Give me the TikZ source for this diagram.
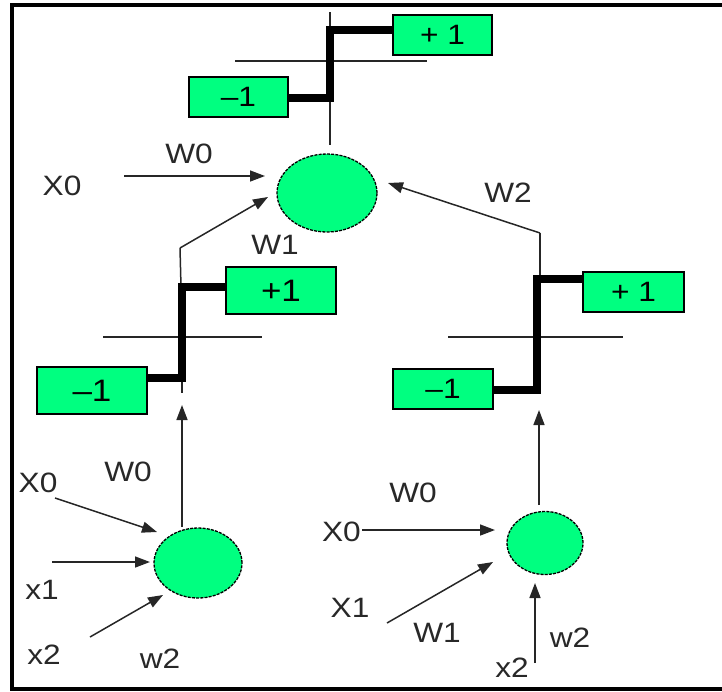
\documentclass[tikz,border=0pt]{standalone}
\usepackage{fontspec}
\setmainfont{Liberation Sans}
\newfontfamily\widesans[FakeStretch=1.13]{Liberation Sans}
\usetikzlibrary{arrows.meta,shapes.geometric}
\definecolor{neurongreen}{RGB}{0,255,128}
\definecolor{labelgray}{RGB}{40,40,40}
\begin{document}
\begin{tikzpicture}[x=1pt,y=-1pt,
  neuron/.style={ellipse,draw=black,dash pattern=on 3pt off 1.2pt,line width=1.3pt,fill=neurongreen,inner sep=0pt},
  valbox/.style={rectangle,draw=black,line width=1.4pt,fill=neurongreen,inner sep=0pt,font=\widesans\fontsize{28}{30}\selectfont},
  bigval/.style={font=\widesans\fontsize{31}{33}\selectfont},
  lbl/.style={font=\widesans\fontsize{28}{30}\selectfont,text=labelgray,inner sep=0pt},
  arr/.style={-{Triangle[length=15pt,width=11pt]},line width=1.5pt,draw=black!85},
  thin/.style={line width=1.5pt,draw=black!85},
  thick/.style={line width=8pt,draw=black},
  frame/.style={line width=3.5pt,draw=black}]
\useasboundingbox (0,0) rectangle (722,691);
% frame
\coordinate (fa) at (722,5);
\coordinate (fb) at (12,5);
\coordinate (fc) at (12,689);
\coordinate (fd) at (722,689);
\draw[frame] (fa) -- (fb) -- (fc) -- (fd);

% neurons
\node[neuron,minimum width=100pt,minimum height=78pt] (n0) at (327,193) {};
\node[neuron,minimum width=88pt,minimum height=70pt] (n1) at (198,563) {};
\node[neuron,minimum width=76pt,minimum height=63pt] (n2) at (545,543) {};

% value boxes
\node[valbox,minimum width=99pt,minimum height=40pt] (p0) at (442.5,35) {+ 1\hspace{8pt}};
\node[valbox,minimum width=99pt,minimum height=40pt] (m0) at (238.5,97) {–1\hspace{8pt}};
\node[valbox,bigval,minimum width=110pt,minimum height=47pt] (p1) at (281,290.5) {+1\hspace{6pt}};
\node[valbox,bigval,minimum width=110pt,minimum height=47pt] (m1) at (92,390.5) {–1\hspace{10pt}};
\node[valbox,minimum width=101pt,minimum height=40pt] (p2) at (633.5,292) {+ 1};
\node[valbox,minimum width=100pt,minimum height=40pt] (m2) at (443,389) {–1\hspace{8pt}};

% top step function
\coordinate (t0a) at (330,12);
\coordinate (t0b) at (330,145);
\coordinate (a0l) at (235,61);
\coordinate (a0r) at (427,61);
\coordinate (s0lo) at (330,98);
\coordinate (s0hi) at (330,30);
\draw[thin] (t0a) -- (t0b);
\draw[thin] (a0l) -- (a0r);
\draw[thick] (m0.east |- s0lo) -- (s0lo) -- (s0hi) -- (p0.west |- s0hi);

% left step function
\coordinate (t1a) at (180,248);
\coordinate (t1b) at (181,287);
\coordinate (a1l) at (103,337);
\coordinate (a1r) at (262,337);
\coordinate (s1lo) at (182,378);
\coordinate (s1hi) at (182,287);
\coordinate (s1tail) at (182,393);
\draw[thin] (t1a) -- (t1b);
\draw[thin] (a1l) -- (a1r);
\draw[thin] (s1lo) -- (s1tail);
\draw[thick] (m1.east |- s1lo) -- (s1lo) -- (s1hi) -- (p1.west |- s1hi);

% right step function
\coordinate (t2a) at (540,233);
\coordinate (t2b) at (540,279);
\coordinate (a2l) at (448,337);
\coordinate (a2r) at (623,337);
\coordinate (s2lo) at (537,390);
\coordinate (s2hi) at (537,279);
\draw[thin] (t2a) -- (t2b);
\draw[thin] (a2l) -- (a2r);
\draw[thick] (m2.east |- s2lo) -- (s2lo) -- (s2hi) -- (p2.west |- s2hi);

% outputs of the lower neurons into the step functions
\coordinate (o1) at (182,527);
\coordinate (o1e) at (182,405);
\draw[arr] (o1) -- (o1e);
\coordinate (o2) at (539,505);
\coordinate (o2e) at (539,410);
\draw[arr] (o2) -- (o2e);

% inputs to top neuron
\coordinate (x0s) at (124,176);
\coordinate (x0e) at (265,176);
\draw[arr] (x0s) -- (x0e);
\coordinate (w1e) at (268,197);
\draw[arr] (t1a) -- (w1e);
\coordinate (w2e) at (388,183);
\draw[arr] (t2a) -- (w2e);

% inputs to left neuron
\coordinate (lx0s) at (55,498);
\coordinate (lx0e) at (157,532);
\draw[arr] (lx0s) -- (lx0e);
\coordinate (lx1s) at (52,562);
\coordinate (lx1e) at (150,562);
\draw[arr] (lx1s) -- (lx1e);
\coordinate (lx2s) at (90,637);
\coordinate (lx2e) at (163,595);
\draw[arr] (lx2s) -- (lx2e);

% inputs to right neuron
\coordinate (rx0s) at (362,530);
\coordinate (rx0e) at (495,530);
\draw[arr] (rx0s) -- (rx0e);
\coordinate (rx1s) at (387,623);
\coordinate (rx1e) at (493,562);
\draw[arr] (rx1s) -- (rx1e);
\coordinate (rx2s) at (535,663);
\coordinate (rx2e) at (535,583);
\draw[arr] (rx2s) -- (rx2e);

% labels top
\node[lbl] (lt0) at (62,186) {X0};
\node[lbl] (lt1) at (189,154) {W0};
\node[lbl] (lt2) at (275,245) {W1};
\node[lbl] (lt3) at (508,193) {W2};
% labels left
\node[lbl] (ll0) at (38,483) {X0};
\node[lbl] (ll1) at (128,472) {W0};
\node[lbl] (ll2) at (42,590) {x1};
\node[lbl] (ll3) at (44,655) {x2};
\node[lbl] (ll4) at (160,659) {w2};
% labels right
\node[lbl,anchor=east] (lr0) at (361,532) {X0};
\node[lbl] (lr1) at (413,493) {W0};
\node[lbl] (lr2) at (350,608) {X1};
\node[lbl] (lr3) at (437,633) {W1};
\node[lbl] (lr4) at (512,668) {x2};
\node[lbl] (lr5) at (570,638) {w2};
\end{tikzpicture}
\end{document}
